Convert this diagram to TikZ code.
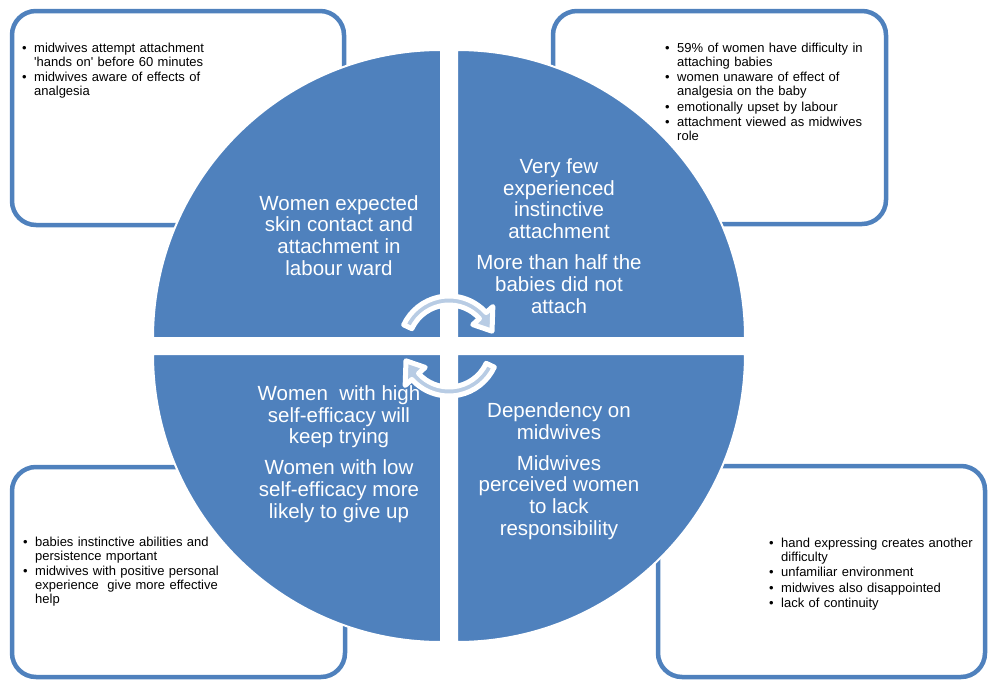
\documentclass[tikz,border=0pt]{standalone}
\usepackage{fontspec}
\setmainfont{Liberation Sans}
\usetikzlibrary{calc}

\definecolor{quadblue}{HTML}{4F81BD}
\definecolor{arrowblue}{HTML}{B8CCE4}

\newcommand{\bitem}[1]{\par\setlength{\parskip}{1.6pt}\hangindent=12pt\hangafter=1\noindent\makebox[12pt][l]{\textbullet}#1\par}

\begin{document}
\begin{tikzpicture}[x=1pt,y=-1pt,
    infobox/.style={draw=quadblue, line width=4.5pt, fill=white, rounded corners=24pt},
    quadrant/.style={fill=quadblue, draw=white, line width=2pt},
    cyclearrow/.style={fill=arrowblue, draw=white, line width=5pt, line join=round},
    boxtext/.style={anchor=north west, inner sep=0pt, text width=240pt, align=left, font=\fontsize{13}{13.8}\selectfont},
    quadtext/.style={text=white, align=center, inner sep=0pt, font=\fontsize{20.5}{21.7}\selectfont}]
        \useasboundingbox (0,0) rectangle (988,680);

        % corner boxes
        \draw[infobox] (12,11) rectangle (344,225);
        \draw[infobox] (553,11) rectangle (886,224);
        \draw[infobox] (12,467) rectangle (345,677);
        \draw[infobox] (658,466) rectangle (985,677);

        \node[boxtext] (tlnotes) at (22,37) {\bitem{midwives attempt attachment\newline\textquotesingle hands on\textquotesingle{} before 60 minutes}\bitem{midwives aware of effects of\newline analgesia}};
        \node[boxtext] (trnotes) at (665,37) {\bitem{59\% of women have difficulty in\newline attaching babies}\bitem{women unaware of effect of\newline analgesia on the baby}\bitem{emotionally upset by labour}\bitem{attachment viewed as midwives\newline role}};
        \node[boxtext] (blnotes) at (23,531) {\bitem{babies instinctive abilities and\newline persistence mportant}\bitem{midwives with positive personal\newline experience~ give more effective\newline help}};
        \node[boxtext] (brnotes) at (769,532) {\bitem{hand expressing creates another\newline difficulty}\bitem{unfamiliar environment}\bitem{midwives also disappointed}\bitem{lack of continuity}};

        % the four quadrants
        \coordinate (tlc) at (441,338);
        \coordinate (trc) at (457,338);
        \coordinate (blc) at (441,354);
        \coordinate (brc) at (457,354);
        \filldraw[quadrant] (tlc) -- ++(180:288) arc[start angle=180, end angle=270, radius=288] -- cycle;
        \filldraw[quadrant] (trc) -- ++(270:288) arc[start angle=270, end angle=360, radius=288] -- cycle;
        \filldraw[quadrant] (brc) -- ++(0:288) arc[start angle=0, end angle=90, radius=288] -- cycle;
        \filldraw[quadrant] (blc) -- ++(90:288) arc[start angle=90, end angle=180, radius=288] -- cycle;

        \node[quadtext] (expect) at (339,235.5) {Women expected\\skin contact and\\attachment in\\labour ward};
        \node[quadtext] (few) at (559,236) {Very few\\experienced\\instinctive\\attachment\\[9.3pt]More than half the\\babies did not\\attach};
        \node[quadtext] (efficacy) at (339,454) {Women~ with high\\self-efficacy will\\keep trying\\[9.3pt]Women with low\\self-efficacy more\\likely to give up};
        \node[quadtext] (depend) at (559,471) {Dependency on\\midwives\\[9.3pt]Midwives\\perceived women\\to lack\\responsibility};

        % cycle arrows
        \coordinate (hub) at (449,346);
        \filldraw[cyclearrow] ([shift={(205:41)}]hub) arc[start angle=205, end angle=318, radius=41]
            -- ([shift={(318:32)}]hub) -- ([shift={(341:45.5)}]hub) -- ([shift={(318:59)}]hub)
            -- ([shift={(318:50)}]hub) arc[start angle=318, end angle=205, radius=50] -- cycle;
        \filldraw[cyclearrow] ([shift={(25:41)}]hub) arc[start angle=25, end angle=138, radius=41]
            -- ([shift={(138:32)}]hub) -- ([shift={(161:45.5)}]hub) -- ([shift={(138:59)}]hub)
            -- ([shift={(138:50)}]hub) arc[start angle=138, end angle=25, radius=50] -- cycle;

    \end{tikzpicture}
\end{document}
